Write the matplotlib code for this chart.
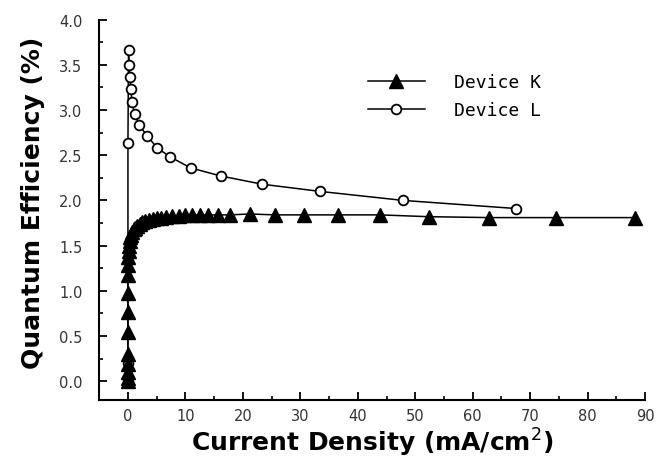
import matplotlib.pyplot as plt
from matplotlib.ticker import MultipleLocator

# Device K (filled triangles)
k_current = [0, 0, 0, 0, 0, 0, 0, 0, 0, 0.02, 0.05, 0.1, 0.18, 0.28, 0.4, 0.55,
             0.75, 1.0, 1.3, 1.65, 2.05, 2.5, 3.0, 3.6, 4.3, 5.0, 5.8, 6.7, 7.7,
             8.8, 10.0, 11.2, 12.5, 14.0, 15.7, 17.7, 21.2, 25.6, 30.6, 36.6,
             43.8, 52.3, 62.8, 74.4, 88.3]
k_qe = [0.0, 0.03, 0.10, 0.19, 0.30, 0.54, 0.76, 0.98, 1.18, 1.29, 1.37, 1.44,
        1.50, 1.55, 1.59, 1.62, 1.65, 1.68, 1.70, 1.72, 1.74, 1.76, 1.77, 1.78,
        1.79, 1.80, 1.81, 1.82, 1.83, 1.83, 1.84, 1.84, 1.84, 1.84, 1.84, 1.84,
        1.85, 1.84, 1.84, 1.84, 1.84, 1.82, 1.81, 1.81, 1.81]

# Device L (open circles)
l_current = [0, 0, 0, 0.1, 0.2, 0.35, 0.5, 0.7, 1.15, 2.0, 3.4, 5.1, 7.4, 10.9,
             16.2, 23.3, 33.4, 47.9, 67.6]
l_qe = [0.02, 0.2, 2.63, 3.67, 3.50, 3.37, 3.23, 3.09, 2.96, 2.83, 2.71, 2.58,
        2.48, 2.36, 2.27, 2.18, 2.10, 2.00, 1.91]

fig = plt.figure(figsize=(6.57, 4.60), dpi=100)
ax = fig.add_axes([0.151, 0.128, 0.831, 0.827])

ax.plot(l_current, l_qe, color="black", lw=1.1, marker="o", ms=7,
        mfc="white", mec="black", mew=1.3, label="Device L", zorder=2)
ax.plot(k_current, k_qe, color="black", lw=1.1, marker="^", ms=10.5,
        mfc="black", mec="black", label="Device K", zorder=3)

ax.set_xlim(-5, 90)
ax.set_ylim(-0.21, 4.0)
ax.xaxis.set_major_locator(MultipleLocator(10))
ax.xaxis.set_minor_locator(MultipleLocator(5))
ax.yaxis.set_minor_locator(MultipleLocator(0.25))
ax.set_yticks([0, 0.5, 1.0, 1.5, 2.0, 2.5, 3.0, 3.5, 4.0])
ax.set_yticklabels(["0.0", "0.5", "1.0", "1.5", "2.0", "2.5", "3.0", "3.5", "4.0"])

for side in ["top", "right"]:
    ax.spines[side].set_visible(False)
for side in ["left", "bottom"]:
    ax.spines[side].set_linewidth(1.5)

ax.tick_params(axis="both", which="major", direction="in", length=6, width=1.3,
               labelsize=10.5, colors="black", labelcolor="#333333")
ax.tick_params(axis="both", which="minor", direction="in", length=3, width=1.2)
ax.tick_params(axis="y", which="major", pad=12)
ax.tick_params(axis="x", which="major", pad=6)

ax.set_xlabel("Current Density (mA/cm$^2$)", fontsize=18, fontweight="bold", labelpad=2)
ax.set_ylabel("Quantum Efficiency (%)", fontsize=18, fontweight="bold", labelpad=6)
ax.yaxis.set_label_coords(-0.1, 0.52)

handles, labels = ax.get_legend_handles_labels()
ax.legend(handles[::-1], labels[::-1], loc="upper left", bbox_to_anchor=(0.462, 0.902),
          frameon=False, prop={"family": "DejaVu Sans Mono", "size": 13},
          handlelength=3.15, labelspacing=0.55, handletextpad=1.65, borderpad=0.4)

fig.savefig("out.png", dpi=100)
